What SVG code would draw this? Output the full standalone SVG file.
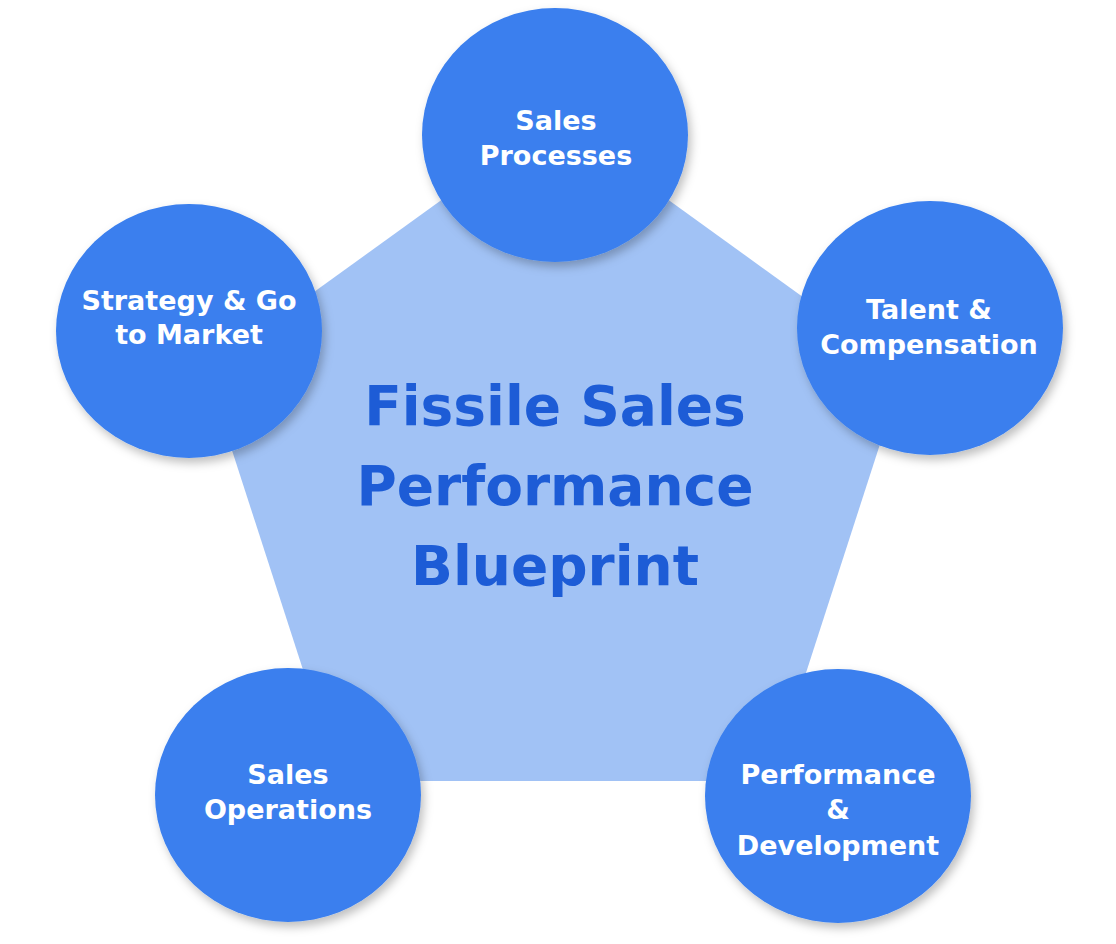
<svg xmlns="http://www.w3.org/2000/svg" width="1116" height="944" viewBox="0 0 1116 944">
<defs>
<filter id="sh" x="-20%" y="-20%" width="140%" height="140%">
<feDropShadow dx="3" dy="5" stdDeviation="5" flood-color="#000" flood-opacity="0.25"/>
</filter>
<style>
.c{fill:#3a7fee;filter:url(#sh)}
.t{font-family:"DejaVu Sans",sans-serif;font-weight:bold;font-size:27px;fill:#fff;text-anchor:middle}
.h{font-family:"DejaVu Sans",sans-serif;font-weight:bold;font-size:55px;fill:#1d5cd6;text-anchor:middle}
</style>
</defs>
<rect width="1116" height="944" fill="#fff"/>
<g id="center">
<polygon points="555,118 904,370 771,781 339,781 206,370" fill="#a1c2f5"/>
<text class="h" x="555" y="425">Fissile Sales</text>
<text class="h" x="555" y="505">Performance</text>
<text class="h" x="555" y="585">Blueprint</text>
</g>
<g id="connectors"></g>
<g id="sales-processes">
<ellipse class="c" cx="555" cy="135" rx="133" ry="127"/>
<text class="t" x="556" y="130">Sales</text>
<text class="t" x="556" y="165">Processes</text>
</g>
<g id="strategy">
<ellipse class="c" cx="189" cy="331" rx="133" ry="127"/>
<text class="t" x="189" y="310">Strategy &amp; Go</text>
<text class="t" x="189" y="344">to Market</text>
</g>
<g id="talent">
<ellipse class="c" cx="930" cy="328" rx="133" ry="127"/>
<text class="t" x="929" y="319">Talent &amp;</text>
<text class="t" x="929" y="354">Compensation</text>
</g>
<g id="sales-operations">
<ellipse class="c" cx="288" cy="795" rx="133" ry="127"/>
<text class="t" x="288" y="784">Sales</text>
<text class="t" x="288" y="819">Operations</text>
</g>
<g id="performance">
<ellipse class="c" cx="838" cy="796" rx="133" ry="127"/>
<text class="t" x="838" y="784">Performance</text>
<text class="t" x="838" y="819">&amp;</text>
<text class="t" x="838" y="855">Development</text>
</g>
</svg>
